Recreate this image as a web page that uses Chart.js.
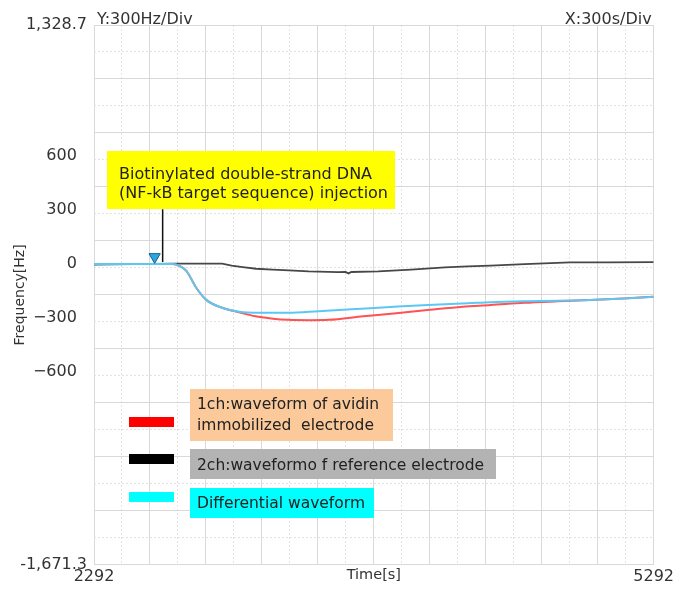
<!DOCTYPE html>
<html>
<head>
<meta charset="utf-8">
<script src="https://cdn.jsdelivr.net/npm/chart.js@4.4.1/dist/chart.umd.min.js"></script>
<style>
  html, body { margin: 0; padding: 0; background: #fff; }
</style>
</head>
<body>
<canvas id="chart" width="676" height="590"></canvas>
<script>
const FONT = '"DejaVu Sans", sans-serif';

const timeRange = [2292, 5292];
const freqRange = [-1671.3, 1328.7];
const freqTicks = [-1671.3, -600, -300, 0, 300, 600, 1328.7];
const freqTickLabels = ['-1,671.3', '\u2212600', '\u2212300', '0', '300', '600', '1,328.7'];
const timeTicks = [2292, 3792, 5292];
const timeTickLabels = ['2292', 'Time[s]', '5292'];

// 1ch: avidin immobilized electrode
const ch1Time = [2292, 2500, 2713, 2750, 2788, 2841, 2894, 2979, 3070, 3157, 3241, 3332, 3450, 3550, 3736, 3912, 4093, 4269, 4418, 4600, 4775, 4951, 5132, 5292];
const ch1Freq = [0, 0, 0, -10, -39, -133, -199, -243, -268, -290, -302, -310, -312, -310, -290, -273, -254, -237, -228, -215, -207, -200, -191, -182];

// 2ch: reference electrode
const ch2Time = [2292, 2500, 2713, 2979, 3030, 3100, 3161, 3250, 3337, 3443, 3600, 3640, 3656, 3672, 3816, 3992, 4173, 4296, 4418, 4600, 4845, 5050, 5292];
const ch2Freq = [-3, 0, 3, 3, -8, -18, -26, -31, -35, -41, -45, -44, -52, -44, -41, -31, -18, -13, -9, 0, 9, 10, 11];

// differential
const diffTime = [2292, 2500, 2713, 2750, 2788, 2841, 2894, 2979, 3070, 3177, 3336, 3496, 3672, 3816, 4082, 4296, 4418, 4600, 4775, 4951, 5132, 5292];
const diffFreq = [0, 0, 0, -10, -39, -133, -199, -243, -265, -271, -271, -262, -251, -243, -227, -218, -212, -207, -204, -199, -191, -182];

// injection marker
const injectTime = [2660, 2660];
const injectFreq = [12, 305];
const markerTime = [2617];
const markerFreq = [40];

const toPoints = (xs, ys) => xs.map((x, i) => ({ x: x, y: ys[i] }));

function stepTicks(start, end, step) {
    const out = [];
    for (let v = start; v <= end + 1e-6; v += step) out.push({ value: v });
    return out;
}

// grid-only axes: solid every 300, dashed half way between
function gridAxis(axis, range, offset, color, dash) {
    return {
        type: 'linear',
        axis: axis,
        position: axis === 'x' ? 'bottom' : 'left',
        min: range[0],
        max: range[1],
        afterBuildTicks: (s) => { s.ticks = stepTicks(range[0] + offset, range[1], 300); },
        ticks: { display: false },
        grid: { color: color, lineWidth: 1, drawTicks: false },
        border: { display: false, dash: dash || [] },
    };
}

const annotations = {
    id: 'annotations',
    afterDatasetsDraw(chart) {
        const ctx = chart.ctx;
        const area = chart.chartArea;
        ctx.save();
        ctx.textBaseline = 'alphabetic';

        ctx.fillStyle = '#333';
        ctx.font = '16px ' + FONT;
        ctx.textAlign = 'left';
        ctx.fillText('Y:300Hz/Div', area.left + 3, area.top - 1);
        ctx.textAlign = 'right';
        ctx.fillText('X:300s/Div', area.right - 2, area.top - 1);

        // injection callout
        ctx.textAlign = 'left';
        ctx.fillStyle = '#ffff00';
        ctx.fillRect(107, 151, 288, 58);
        ctx.fillStyle = '#222';
        ctx.font = '16px ' + FONT;
        ctx.fillText('Biotinylated double-strand DNA', 119, 179);
        ctx.fillText('(NF-kB target sequence) injection', 119, 198);

        // legend
        const swatches = [
            { y: 417, color: '#ff0000' },
            { y: 454, color: '#000000' },
            { y: 492, color: '#00ffff' },
        ];
        swatches.forEach((s) => {
            ctx.fillStyle = s.color;
            ctx.fillRect(129, s.y, 45, 10);
        });
        const boxes = [
            { x: 190, y: 389, w: 203, h: 52, color: '#fcca9a', lines: ['1ch:waveform of avidin', 'immobilized  electrode'], base: 409 },
            { x: 190, y: 449, w: 306, h: 30, color: '#b3b3b3', lines: ['2ch:waveformo f reference electrode'], base: 470 },
            { x: 190, y: 488, w: 184, h: 30, color: '#00ffff', lines: ['Differential waveform'], base: 508 },
        ];
        ctx.font = '15.5px ' + FONT;
        boxes.forEach((b) => {
            ctx.fillStyle = b.color;
            ctx.fillRect(b.x, b.y, b.w, b.h);
            ctx.fillStyle = '#222';
            b.lines.forEach((l, i) => ctx.fillText(l, b.x + 7, b.base + i * 21));
        });
        ctx.restore();
    },
};

Chart.defaults.font.family = FONT;

new Chart(document.getElementById('chart'), {
    type: 'line',
    data: {
        datasets: [
            {
                label: 'inject',
                data: toPoints(injectTime, injectFreq),
                borderColor: '#111',
                borderWidth: 1.5,
                pointRadius: 0,
                order: 0,
            },
            {
                label: 'marker',
                data: toPoints(markerTime, markerFreq),
                showLine: false,
                pointStyle: 'triangle',
                rotation: 180,
                pointRadius: 6.5,
                pointBackgroundColor: '#2aa7df',
                pointBorderColor: '#1d5f86',
                pointBorderWidth: 1,
                order: 0,
            },
            {
                label: 'Differential waveform',
                data: toPoints(diffTime, diffFreq),
                borderColor: '#5cc8f2',
                borderWidth: 2,
                pointRadius: 0,
                cubicInterpolationMode: 'monotone',
                order: 1,
            },
            {
                label: '1ch',
                data: toPoints(ch1Time, ch1Freq),
                borderColor: '#ff5252',
                borderWidth: 2,
                pointRadius: 0,
                cubicInterpolationMode: 'monotone',
                order: 2,
            },
            {
                label: '2ch',
                data: toPoints(ch2Time, ch2Freq),
                borderColor: '#474747',
                borderWidth: 1.8,
                pointRadius: 0,
                order: 3,
            },
        ],
    },
    options: {
        responsive: false,
        animation: false,
        layout: { padding: { top: 25, left: 0, right: 0, bottom: 2 } },
        plugins: {
            legend: { display: false },
            tooltip: { enabled: false },
        },
        scales: {
            x: {
                type: 'linear',
                position: 'bottom',
                min: timeRange[0],
                max: timeRange[1],
                afterBuildTicks: (s) => { s.ticks = timeTicks.map((v) => ({ value: v })); },
                grid: { display: false, drawTicks: false },
                border: { display: false },
                ticks: {
                    autoSkip: false,
                    maxRotation: 0,
                    padding: 2,
                    color: '#333',
                    font: (c) => ({ size: c.index === 1 ? 14.5 : 16, family: FONT }),
                    callback: (v, i) => timeTickLabels[i],
                },
            },
            xMajor: gridAxis('x', timeRange, 0, '#d9d9d9'),
            xMinor: gridAxis('x', timeRange, 150, '#e2e2e2', [2, 2]),
            y: {
                type: 'linear',
                position: 'left',
                min: freqRange[0],
                max: freqRange[1],
                afterBuildTicks: (s) => { s.ticks = freqTicks.map((v) => ({ value: v })); },
                afterFit: (s) => { s.width = 94; },
                grid: { display: false, drawTicks: false },
                border: { display: false },
                title: {
                    display: true,
                    text: 'Frequency[Hz]',
                    color: '#333',
                    font: { size: 14, family: FONT },
                    padding: { top: 12, bottom: 0 },
                },
                ticks: {
                    autoSkip: false,
                    padding: 7,
                    color: '#333',
                    font: { size: 16, family: FONT },
                    // inner labels sit a little further from the axis than the end labels
                    callback: (v, i) => (i === 0 || i === freqTicks.length - 1 ? freqTickLabels[i] : freqTickLabels[i] + '  '),
                },
            },
            yMajor: gridAxis('y', freqRange, 0, '#d9d9d9'),
            yMinor: gridAxis('y', freqRange, 150, '#e2e2e2', [2, 2]),
        },
    },
    plugins: [annotations],
});
</script>
</body>
</html>
